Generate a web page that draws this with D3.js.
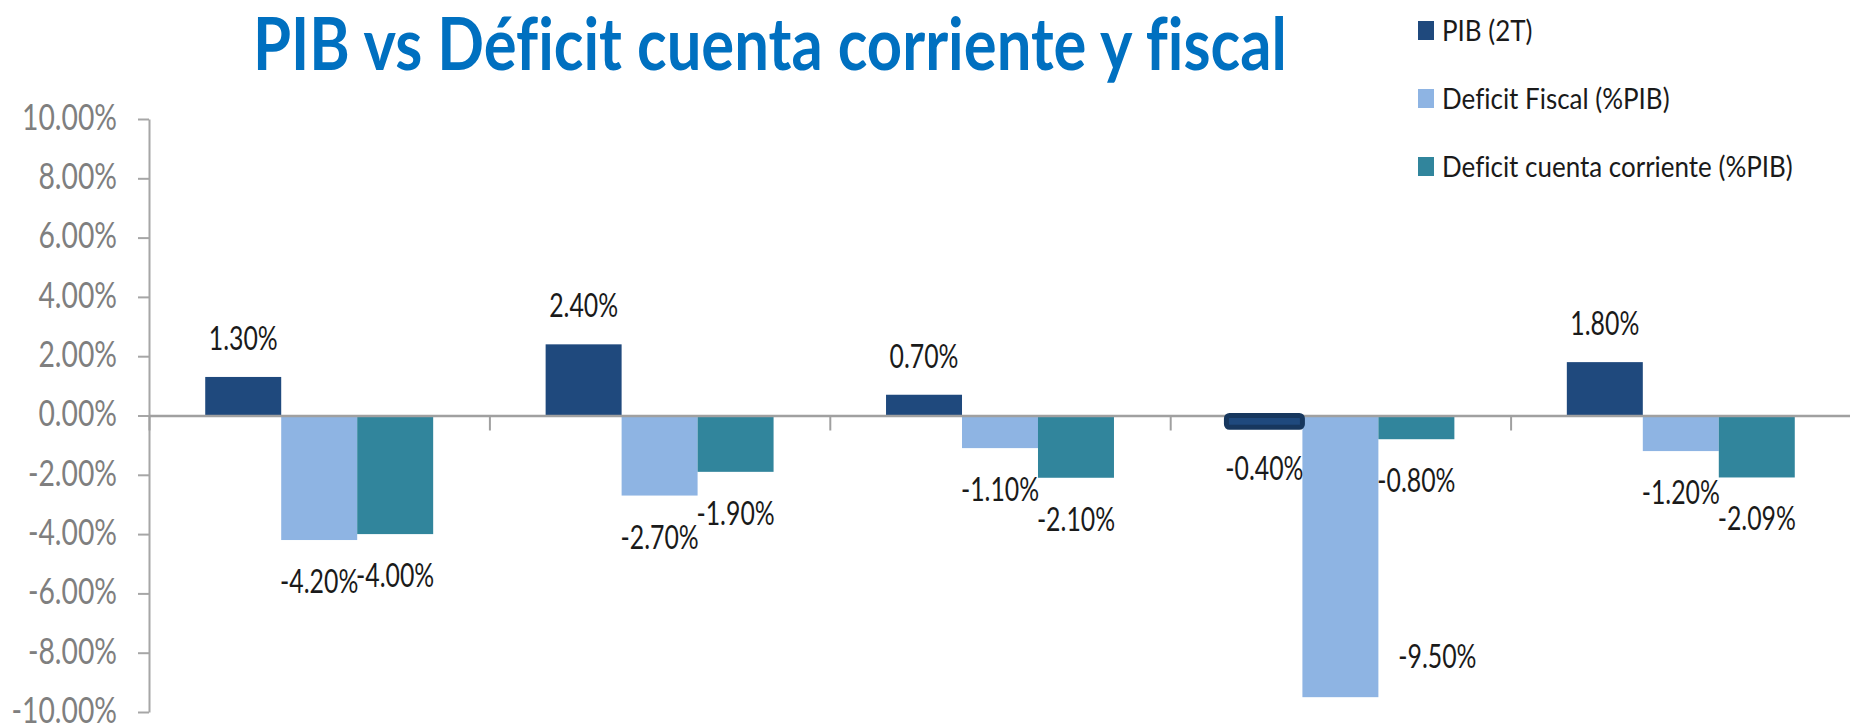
<!DOCTYPE html>
<html>
<head>
<meta charset="utf-8">
<script src="https://cdn.jsdelivr.net/npm/d3@7"></script>
<style>
  body { margin: 0; background: #fff; }
  svg { display: block; }
  text { font-variant-ligatures: none; }
</style>
</head>
<body>
<div id="chart"></div>
<script>
// data (values in %)
const categories = ["1", "2", "3", "4", "5"];
const series = ["PIB (2T)", "Deficit Fiscal (%PIB)", "Deficit cuenta corriente (%PIB)"];
const pib = [1.3, 2.4, 0.7, -0.4, 1.8];
const deficitFiscal = [-4.2, -2.7, -1.1, -9.5, -1.2];
const deficitCuenta = [-4.0, -1.9, -2.1, -0.8, -2.09];
const yTicks = [-10, -8, -6, -4, -2, 0, 2, 4, 6, 8, 10];
const title = "PIB vs Déficit cuenta corriente y fiscal";

const colors = ["#1F497D", "#8EB4E3", "#31859C"];
const FONT = "Lato, 'Open Sans', sans-serif";

// label that Excel moved off the bar end (series index, category index)
const labelNudges = [{ s: 1, c: 3, dx: 97, dy: -82 }];

function draw() {
  const width = 1850, height = 726;
  const plot = { left: 149, right: 1851, top: 119, bottom: 712 };

  const svg = d3.select("#chart").append("svg")
    .attr("width", width)
    .attr("height", height);

  function widthOf(txt, size, weight) {
    const t = svg.append("text")
      .style("font-family", FONT)
      .style("font-size", size + "px")
      .style("font-weight", weight)
      .text(txt);
    const w = t.node().getComputedTextLength();
    t.remove();
    return w;
  }

  const x0 = d3.scaleBand().domain(categories).range([plot.left, plot.right]).padding(0);
  const x1 = d3.scaleBand().domain(series).range([0, x0.bandwidth()])
    .paddingInner(0).paddingOuter(0.74);
  const y = d3.scaleLinear().domain([-10, 10]).range([plot.bottom, plot.top]);

  // title
  const sxTitle = 1034 / widthOf(title, 72, 700);
  svg.append("text")
    .attr("transform", `translate(253,70) scale(${sxTitle},1)`)
    .attr("fill", "#0070C0")
    .style("font-family", FONT)
    .style("font-size", "72px")
    .style("font-weight", 700)
    .text(title);

  // y axis
  const sxTick = 95 / widthOf("10.00%", 37, 400);
  const yAxis = svg.append("g")
    .attr("transform", `translate(${plot.left},0)`)
    .call(d3.axisLeft(y).tickValues(yTicks).tickSize(11).tickSizeOuter(0)
      .tickFormat((d) => d.toFixed(2) + "%"));
  yAxis.select(".domain").attr("stroke", "#A6A6A6").attr("stroke-width", 2);
  yAxis.selectAll(".tick line").attr("stroke", "#A6A6A6").attr("stroke-width", 2);
  yAxis.selectAll(".tick text")
    .attr("x", 0)
    .attr("dy", "0.28em")
    .attr("transform", `translate(-32,0) scale(${sxTick},1)`)
    .attr("fill", "#7F7F7F")
    .style("font-family", FONT)
    .style("font-size", "37px");

  // bars
  const values = [pib, deficitFiscal, deficitCuenta];
  const rows = [];
  categories.forEach((c, ci) => {
    series.forEach((s, si) => {
      rows.push({ cat: c, ser: s, ci: ci, si: si, v: values[si][ci] });
    });
  });

  svg.selectAll(".bar")
    .data(rows)
    .enter()
    .append("rect")
    .attr("class", (d) => (d.si === 0 && d.v < 0 ? "bar outlined" : "bar"))
    .attr("x", (d) => x0(d.cat) + x1(d.ser))
    .attr("width", x1.bandwidth())
    .attr("y", (d) => y(Math.max(0, d.v)))
    .attr("height", (d) => Math.abs(y(d.v) - y(0)))
    .attr("fill", (d) => colors[d.si]);

  svg.selectAll(".bar.outlined")
    .attr("stroke", "#17375E")
    .attr("stroke-width", 5)
    .attr("rx", 3);

  // zero line with category separators
  const xb = d3.scaleLinear().domain([0, categories.length]).range([plot.left, plot.right]);
  const zeroAxis = svg.append("g")
    .attr("transform", `translate(0,${y(0)})`)
    .call(d3.axisBottom(xb).tickValues(d3.range(0, categories.length + 1))
      .tickSize(15).tickSizeOuter(0).tickFormat(""));
  zeroAxis.select(".domain").attr("stroke", "#A0A0A0").attr("stroke-width", 2.5);
  zeroAxis.selectAll(".tick line").attr("stroke", "#A0A0A0").attr("stroke-width", 2);

  svg.selectAll(".bar.outlined").raise();

  // data labels
  const sxLabel = 69 / widthOf("1.30%", 33, 400);
  svg.selectAll(".label")
    .data(rows)
    .enter()
    .append("text")
    .attr("class", "label")
    .attr("text-anchor", "middle")
    .attr("transform", (d) => {
      let cx = x0(d.cat) + x1(d.ser) + x1.bandwidth() / 2;
      let by = d.v >= 0 ? y(d.v) - 27 : y(d.v) + 53;
      const n = labelNudges.find((k) => k.s === d.si && k.c === d.ci);
      if (n) {
        cx += n.dx;
        by += n.dy;
      }
      return `translate(${cx},${by}) scale(${sxLabel},1)`;
    })
    .attr("fill", "#1A1A1A")
    .style("font-family", FONT)
    .style("font-size", "33px")
    .text((d) => d.v.toFixed(2) + "%");

  // legend
  const sxLegend = 351 / widthOf(series[2], 29, 400);
  const legend = svg.selectAll(".legend")
    .data(series)
    .enter()
    .append("g")
    .attr("class", "legend")
    .attr("transform", (d, i) => `translate(1418,${41 + i * 68})`);

  legend.append("rect")
    .attr("x", 0)
    .attr("y", -20)
    .attr("width", 16)
    .attr("height", 19)
    .attr("fill", (d, i) => colors[i]);

  legend.append("text")
    .attr("transform", `translate(24,0) scale(${sxLegend},1)`)
    .attr("fill", "#1A1A1A")
    .style("font-family", FONT)
    .style("font-size", "29px")
    .text((d) => d);
}

document.fonts.ready.then(draw);
</script>
</body>
</html>
